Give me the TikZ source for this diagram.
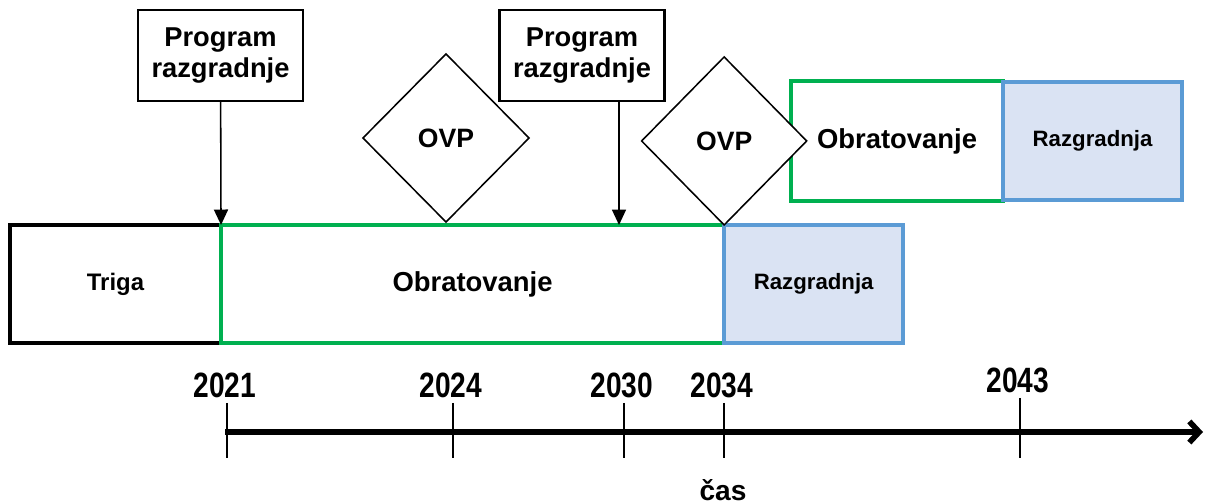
\documentclass[tikz,border=0pt]{standalone}
\usepackage{fontspec}
\setmainfont{Liberation Sans}
\usepackage{graphicx}
\usepackage{tikz}
\usetikzlibrary{arrows.meta,positioning,shapes.geometric}
\definecolor{phasegreen}{HTML}{00B050}
\definecolor{razgline}{HTML}{5B9BD5}
\definecolor{razgfill}{HTML}{DAE3F3}

\begin{document}
\begin{tikzpicture}[x=0.025cm,y=-0.025cm,>={Triangle[length=11pt,width=10pt]},
	box/.style={draw=black,line width=2.6pt,rectangle,outer sep=0pt,inner sep=0pt,minimum height=2.95cm,font=\fontsize{17}{20}\selectfont\bfseries},
	work/.style={box,draw=phasegreen,font=\fontsize{19.5}{22}\selectfont\bfseries},
	dismantle/.style={box,draw=razgline,fill=razgfill,font=\fontsize{15.8}{18}\selectfont\bfseries},
	plan/.style={draw=black,line width=1.6pt,rectangle,align=center,minimum width=4.125cm,minimum height=2.275cm,inner sep=0pt,font=\fontsize{19.4}{21.5}\selectfont\bfseries},
	review/.style={draw=black,line width=1.1pt,diamond,fill=white,inner sep=0pt,outer sep=0pt,minimum width=4.15cm,minimum height=4.2cm,font=\fontsize{18.9}{21}\selectfont\bfseries},
	year/.style={inner sep=0pt,font=\fontsize{20}{22}\selectfont\bfseries}]
	\useasboundingbox (0,0) rectangle (1206,504);
	
	% lower line
	\node[box,minimum width=5.275cm]				(triga)	at (115.5,284)					{Triga};
	\node[work,minimum width=12.575cm]			(obrat1)	[right=0pt of triga]			{Obratovanje};
	\node[dismantle,minimum width=4.475cm]		(razg1)		[right=0pt of obrat1]			{Razgradnja};
	
	% upper line
	\node[work,minimum width=5.3cm,minimum height=3cm]	(obrat2)	at (897,141)		{Obratovanje};
	\node[dismantle,minimum width=4.475cm]		(razg2)		[right=0pt of obrat2]			{Razgradnja};
	
	\node[review]								(ovp1)		at (446,138)					{OVP};
	\node[review,minimum width=4.125cm]			(ovp2)		[above=0pt of obrat1.north east]	{OVP};
	
	\node[plan]									(prog1)		at (220.5,55.5)				{Program\\razgradnje};
	\node[plan]									(prog2)		at (582,55.5)				{Program\\razgradnje};
	\coordinate									(hit2)		at (619,225);
	
	\path[->,line width=1.1pt]
		(prog1)				edge	(triga.north east)
		(prog2.south -| hit2)	edge	(hit2)
	;
	
	% time axis
	\coordinate (t0) at (225,432);
	\coordinate (tend) at (1203,432);
	\draw[line width=4pt,-{Straight Barb[length=7pt,width=15pt]}] (t0) -- (tend);
	\foreach \x/\lbl/\ly in {227/2021/385,453/2024/385,624/2030/385,724/2034/385,1020/2043/380}
	{
		\draw[line width=1.4pt] (\x,\ly+18) -- (\x,458);
		\node[year] (y\lbl) at (\x-2,\ly) {\scalebox{1}[1.25]{\lbl}};
	}
	\node[year] (cas) at (723,490) {čas};
\end{tikzpicture}
\end{document}
